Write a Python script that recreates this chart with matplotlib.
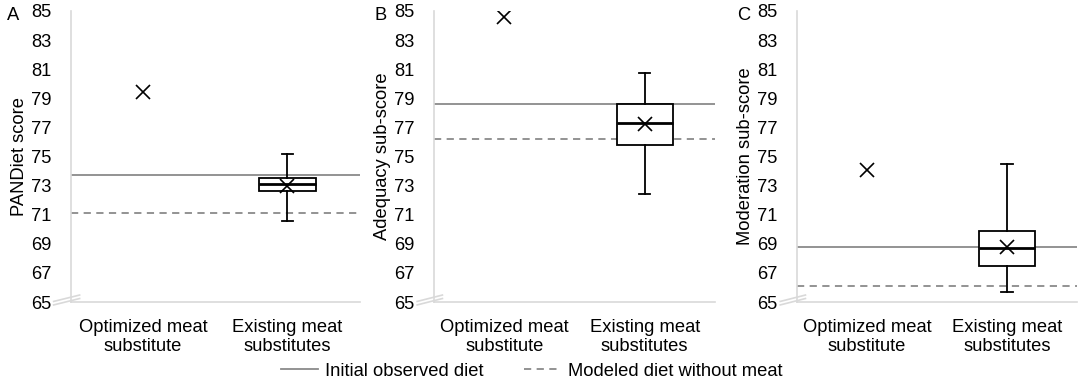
import matplotlib.pyplot as plt

plt.rcParams['font.family'] = ['Liberation Sans', 'DejaVu Sans']

categories = ['Optimized meat\nsubstitute', 'Existing meat\nsubstitutes']
panel_letters = ['A', 'B', 'C']
ylabels = ['PANDiet score', 'Adequacy sub-score', 'Moderation sub-score']

# single value for the optimized substitute
optimized = [79.4, 84.6, 74.1]
# reference diets
initial_diet = [73.7, 78.6, 68.8]
modeled_diet = [71.15, 76.2, 66.1]
# existing meat substitutes box stats
whis_low = [70.6, 72.4, 65.7]
q1 = [72.6, 75.8, 67.45]
median = [73.1, 77.3, 68.7]
mean = [73.0, 77.25, 68.8]
q3 = [73.5, 78.6, 69.9]
whis_high = [75.15, 80.75, 74.45]

yticks = list(range(65, 86, 2))

fig = plt.figure(figsize=(10.85, 3.78), dpi=100)
lefts = [0.0654, 0.4, 0.7346]
widths = [0.266, 0.259, 0.258]

for i in range(3):
    ax = fig.add_axes([lefts[i], 0.201, widths[i], 0.77])
    ax.set_xlim(0.5, 2.5)
    ax.set_ylim(65, 85)

    ax.axhline(initial_diet[i], color='#8a8a8a', lw=1.3, zorder=1)
    ax.axhline(modeled_diet[i], color='#8a8a8a', lw=1.3, ls=(0, (4, 3)), zorder=1)

    stats = [dict(med=median[i], q1=q1[i], q3=q3[i], whislo=whis_low[i],
                  whishi=whis_high[i], mean=mean[i], fliers=[])]
    ax.bxp(stats, positions=[2], widths=0.4, showmeans=True, patch_artist=True,
           capwidths=0.08,
           boxprops=dict(facecolor='white', edgecolor='black', lw=1.3),
           medianprops=dict(color='black', lw=2),
           whiskerprops=dict(color='black', lw=1.3),
           capprops=dict(color='black', lw=1.3),
           meanprops=dict(marker='x', markeredgecolor='black', markersize=10,
                          markeredgewidth=1.2))

    ax.plot([1], [optimized[i]], marker='x', color='black', ms=10, mew=1.2, ls='none')

    ax.set_xticks([1, 2])
    ax.set_xticklabels(categories, fontsize=13.2)
    ax.set_yticks(yticks)
    ax.tick_params(axis='both', length=0, labelsize=13.2)
    ax.tick_params(axis='x', pad=12)
    ax.tick_params(axis='y', pad=14)
    for s in ['top', 'right']:
        ax.spines[s].set_visible(False)
    for s in ['left', 'bottom']:
        ax.spines[s].set_color('#d9d9d9')
        ax.spines[s].set_linewidth(1.2)
    ax.set_ylabel(ylabels[i], fontsize=13.2, labelpad=2)

    # axis break mark
    for dy in (0, 0.012):
        ax.plot([-0.06, 0.03], [-0.01 + dy, 0.012 + dy], transform=ax.transAxes,
                color='#d9d9d9', lw=1.2, clip_on=False)

    ax.text(-0.2 if i == 0 else -0.19, 0.985, panel_letters[i], transform=ax.transAxes,
            fontsize=13.2, ha='center', va='center')

handles = [plt.Line2D([], [], color='#8a8a8a', lw=1.3),
           plt.Line2D([], [], color='#8a8a8a', lw=1.3, ls=(0, (4, 3)))]
fig.legend(handles, ['Initial observed diet', 'Modeled diet without meat'],
           loc='center', bbox_to_anchor=(0.4903, 0.018), ncol=2, frameon=False,
           fontsize=13.2, handlelength=2, handletextpad=0.4, columnspacing=2.2,
           borderpad=0, borderaxespad=0)

fig.savefig('out.png', dpi=100)
